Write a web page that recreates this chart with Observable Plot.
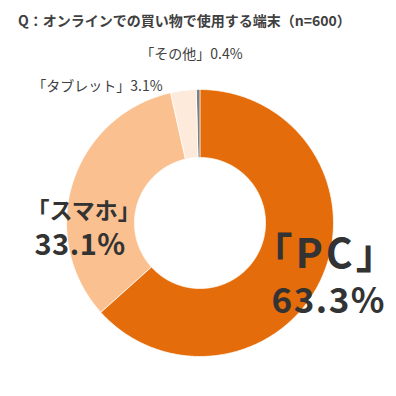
<!DOCTYPE html>
<html>
<head>
<meta charset="utf-8">
<script src="https://cdn.jsdelivr.net/npm/d3@7"></script>
<script src="https://cdn.jsdelivr.net/npm/@observablehq/plot@0.6"></script>
<style>
  body { margin: 0; background: #fff; }
  #title { height: 32px; padding-top: 4px; padding-left: 18px; line-height: 32px;
    font-family: "Noto Sans CJK JP", sans-serif; font-weight: bold; font-size: 14px; color: #404040; white-space: nowrap; }
</style>
</head>
<body>
<div id="title">Q：オンラインでの買い物で使用する端末（n=600）</div>
<div id="chart"></div>
<script>
// ---- data ----
const categories = ["PC", "スマホ", "タブレット", "その他"];
const shares = [63.3, 33.1, 3.1, 0.4];
const labels = ["「PC」", "「スマホ」", "「タブレット」", "「その他」"];
const colors = ["#E46C0A", "#FAC090", "#FDEADA", "#7F7F7F"];

// ---- layout ----
const W = 396, TOP = 36, H = 360;
const cx = 199.5, cy = 222.5, R = 133.5, r = 65.5;

const pie = d3.pie().sort(null).value(d => d.v);
const arcs = pie(categories.map((c, i) => ({c, v: shares[i]})));
const pts = [];
for (const a of arcs) {
  const n = Math.max(4, Math.ceil((a.endAngle - a.startAngle) / 0.01));
  for (let k = 0; k <= n; k++) {
    const t = a.startAngle + (a.endAngle - a.startAngle) * k / n;
    pts.push({c: a.data.c, x: cx + R * Math.sin(t), y: cy - R * Math.cos(t)});
  }
  for (let k = n; k >= 0; k--) {
    const t = a.startAngle + (a.endAngle - a.startAngle) * k / n;
    pts.push({c: a.data.c, x: cx + r * Math.sin(t), y: cy - r * Math.cos(t)});
  }
}

const fmt = v => v.toFixed(1) + "%";
const font = '"Noto Sans CJK JP", sans-serif';
const small = [
  {t: labels[3] + fmt(shares[3]), x: 191, y: 54},
  {t: labels[2] + fmt(shares[2]), x: 97, y: 86}
];
const big = [
  {t: labels[1], x: 26, y: 211, s: 23, ls: 0, w: "bold"},
  {t: fmt(shares[1]), x: 34, y: 245, s: 29, ls: 0.5, w: "bold"},
  {t: labels[0], x: 251, y: 254, s: 41, ls: 3, w: "bold"},
  {t: fmt(shares[0]), x: 271, y: 301, s: 35, ls: 1.5, w: "bold"}
];

const plot = Plot.plot({
  width: W, height: H,
  margin: 0,
  x: {domain: [0, W], range: [0, W], axis: null},
  y: {domain: [TOP, TOP + H], range: [0, H], axis: null},
  color: {domain: categories, range: colors},
  style: {fontFamily: font, background: "#fff"},
  marks: [
    Plot.line(pts, {x: "x", y: "y", z: "c", fill: "c", stroke: "white", strokeWidth: 0.8, curve: "linear-closed"}),
    Plot.text(small, {x: "x", y: "y", text: "t", fontSize: 14, fill: "#404040", textAnchor: "middle"}),
    ...big.map(b => Plot.text([b], {x: "x", y: "y", text: "t", fontSize: b.s, fontWeight: b.w, fill: "#333333", textAnchor: "start"}))
  ]
});
// letter spacing for the large labels
d3.select(plot).selectAll("text").each(function() {
  const b = big.find(d => d.t === this.textContent);
  if (b && b.ls) this.setAttribute("letter-spacing", b.ls);
});
document.getElementById("chart").appendChild(plot);
</script>
</body>
</html>
